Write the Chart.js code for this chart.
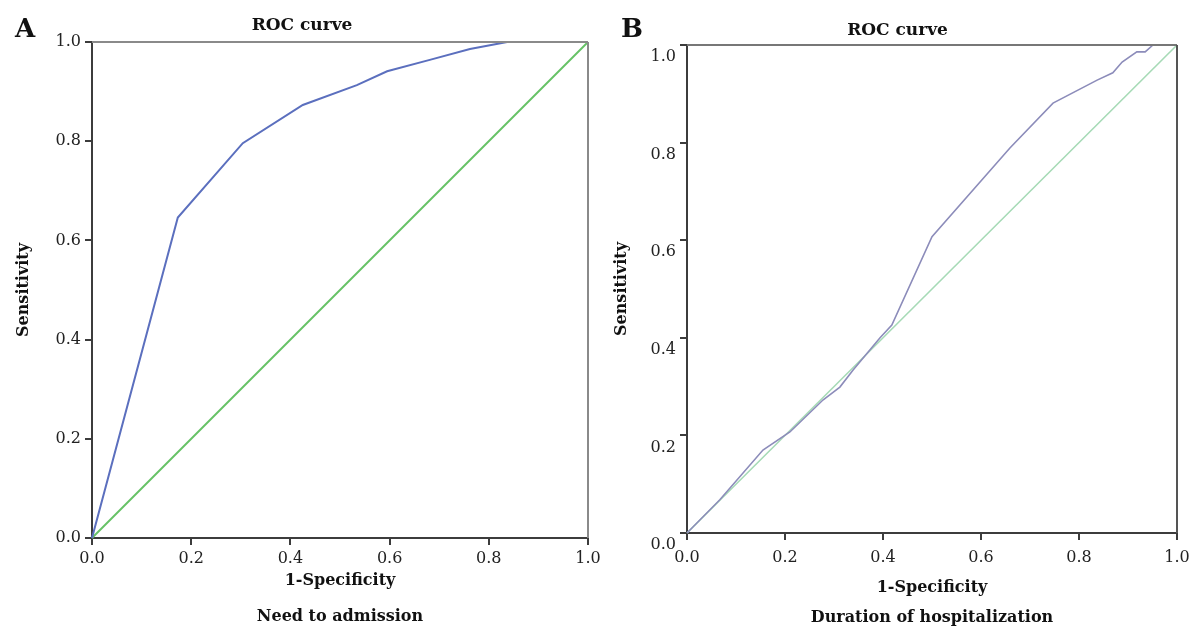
<!DOCTYPE html>
<html>
<head>
<meta charset="utf-8">
<script src="https://cdn.jsdelivr.net/npm/chart.js@4.4.1/dist/chart.umd.min.js"></script>
<style>
  body { margin: 0; background: #fff; width: 1193px; height: 629px; position: relative; overflow: hidden; }
  .panel { position: absolute; top: 0; height: 629px; }
  .letter { position: absolute; font-family: "DejaVu Serif", serif; font-weight: bold; font-size: 26px; line-height: 26px; color: #111; }
</style>
</head>
<body>
<div class="panel" style="left:0;width:620px"><canvas id="rocA" width="620" height="629"></canvas></div>
<div class="panel" style="left:600px;width:593px"><canvas id="rocB" width="593" height="629"></canvas></div>
<div class="letter" style="left:15px;top:15px">A</div>
<div class="letter" style="left:621px;top:15px">B</div>
<script>
// A: need to admission
const fprA = [0, 0.173, 0.304, 0.425, 0.534, 0.595, 0.681, 0.762, 0.837, 1.0];
const tprA = [0, 0.646, 0.796, 0.873, 0.913, 0.941, 0.964, 0.986, 1.0, 1.0];

// B: duration of hospitalization
const fprB = [0, 0.067, 0.155, 0.21, 0.278, 0.312, 0.339, 0.394, 0.418, 0.5, 0.659, 0.747, 0.837, 0.869, 0.888, 0.918, 0.935, 0.951, 1.0];
const tprB = [0, 0.068, 0.170, 0.207, 0.273, 0.299, 0.334, 0.40, 0.426, 0.607, 0.789, 0.881, 0.928, 0.943, 0.965, 0.986, 0.986, 1.0, 1.0];

// reference line
const refX = [0, 1];
const refY = [0, 1];

const tickValues = [0, 0.2, 0.4, 0.6, 0.8, 1.0];

const toPoints = (xs, ys) => xs.map((x, i) => ({ x: x, y: ys[i] }));

// top and right frame of the plot area
const framePlugin = {
    id: 'frame',
    afterDatasetsDraw(chart, args, opts) {
        const { ctx, chartArea: a } = chart;
        ctx.save();
        ctx.lineWidth = 2;
        ctx.strokeStyle = opts.top;
        ctx.beginPath();
        ctx.moveTo(a.left, a.top);
        ctx.lineTo(a.right, a.top);
        ctx.stroke();
        ctx.strokeStyle = opts.right;
        ctx.beginPath();
        ctx.moveTo(a.right, a.top);
        ctx.lineTo(a.right, a.bottom);
        ctx.stroke();
        ctx.restore();
    }
};

function makeRoc(id, cfg) {
    const ctx = document.getElementById(id).getContext('2d');
    return new Chart(ctx, {
        type: 'line',
        data: {
            datasets: [{
                data: toPoints(cfg.fpr, cfg.tpr),
                borderColor: cfg.curveColor,
                borderWidth: cfg.curveWidth,
                pointRadius: 0,
                tension: 0,
                clip: false
            }, {
                data: toPoints(refX, refY),
                borderColor: cfg.refColor,
                borderWidth: cfg.refWidth,
                pointRadius: 0,
                tension: 0,
                clip: false
            }]
        },
        plugins: [framePlugin],
        options: {
            responsive: false,
            animation: false,
            layout: { padding: { left: cfg.padLeft, right: cfg.padRight, top: 0, bottom: 0 } },
            plugins: {
                legend: { display: false },
                tooltip: { enabled: false },
                frame: { top: cfg.topColor, right: cfg.rightColor },
                title: {
                    display: true,
                    text: 'ROC curve',
                    color: '#111',
                    font: { family: 'DejaVu Serif', weight: 'bold', size: 17 },
                    padding: { top: cfg.titleTop, bottom: cfg.titleBottom }
                }
            },
            scales: {
                x: {
                    type: 'linear',
                    min: 0,
                    max: 1,
                    afterFit: (s) => { s.height = cfg.xHeight; s.paddingLeft = 0; s.paddingRight = 0; },
                    afterBuildTicks: (s) => { s.ticks = tickValues.map(v => ({ value: v })); },
                    border: { color: '#3c3c3c', width: 2 },
                    grid: { drawOnChartArea: false, tickLength: 7, color: '#3c3c3c', lineWidth: 2 },
                    ticks: {
                        color: '#222',
                        padding: cfg.xTickPad,
                        font: { family: 'DejaVu Serif', size: 16 },
                        callback: (v) => Number(v).toFixed(1)
                    },
                    title: {
                        display: true,
                        text: ['1-Specificity', cfg.subtitle],
                        color: '#111',
                        font: { family: 'DejaVu Serif', weight: 'bold', size: 16, lineHeight: cfg.xTitleLine },
                        padding: { top: 0, bottom: cfg.xTitlePad }
                    }
                },
                y: {
                    type: 'linear',
                    min: 0,
                    max: 1,
                    afterFit: (s) => { s.width = cfg.yWidth; },
                    afterBuildTicks: (s) => { s.ticks = tickValues.map(v => ({ value: v })); },
                    border: { color: '#3c3c3c', width: 2 },
                    grid: { drawOnChartArea: false, tickLength: 7, color: '#3c3c3c', lineWidth: 2 },
                    ticks: {
                        color: '#222',
                        padding: 4,
                        labelOffset: cfg.yLabelOffset,
                        font: { family: 'DejaVu Serif', size: 16 },
                        callback: (v) => Number(v).toFixed(1)
                    },
                    title: {
                        display: true,
                        text: 'Sensitivity',
                        color: '#111',
                        font: { family: 'DejaVu Serif', weight: 'bold', size: 16 },
                        padding: { top: cfg.yTitlePad, bottom: 0 }
                    }
                }
            }
        }
    });
}

makeRoc('rocA', {
    fpr: fprA, tpr: tprA, subtitle: 'Need to admission',
    curveColor: '#5b6fbe', curveWidth: 2, refColor: '#66c266', refWidth: 2,
    topColor: '#8a8a8a', rightColor: '#8a8a8a',
    padLeft: 16, padRight: 32, titleTop: 15, titleBottom: 6.6,
    xHeight: 91, xTickPad: 4, xTitleLine: 2.25, xTitlePad: -6,
    yWidth: 76, yTitlePad: -2, yLabelOffset: 0
});

makeRoc('rocB', {
    fpr: fprB, tpr: tprB, subtitle: 'Duration of hospitalization',
    curveColor: '#8c8cba', curveWidth: 1.6, refColor: '#a6dab6', refWidth: 1.6,
    topColor: '#777777', rightColor: '#555555',
    padLeft: 18, padRight: 16, titleTop: 20, titleBottom: 4.6,
    xHeight: 96, xTickPad: 8, xTitleLine: 1.875, xTitlePad: -4,
    yWidth: 69, yTitlePad: -5.6, yLabelOffset: 12
});
</script>
</body>
</html>
